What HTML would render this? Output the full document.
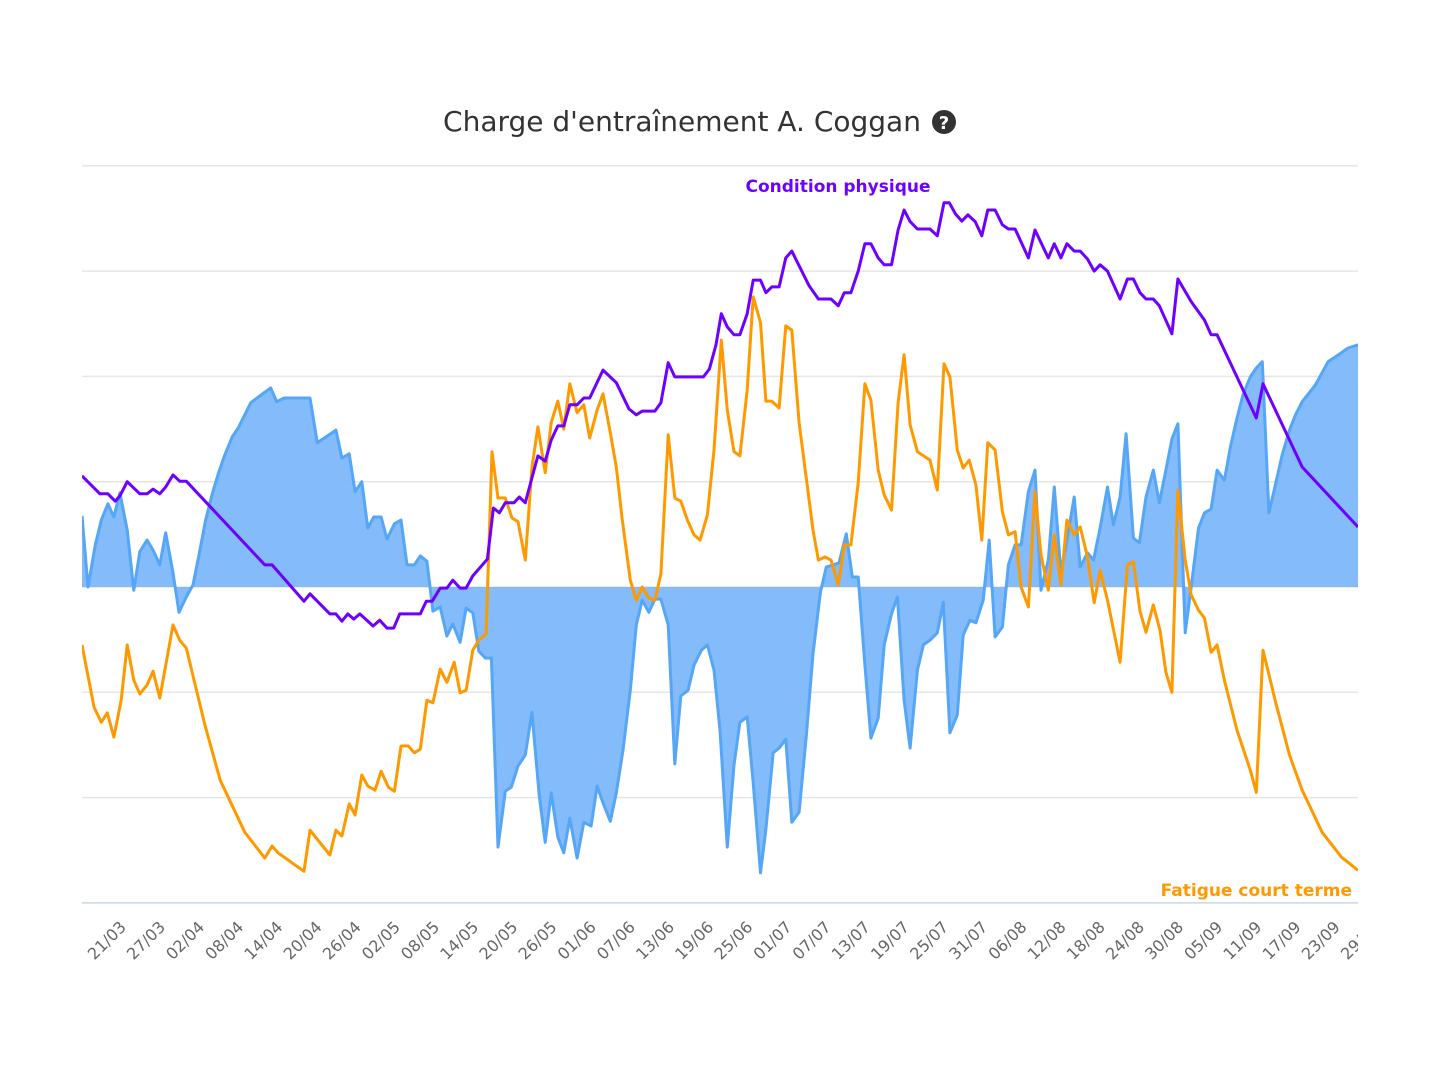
<!DOCTYPE html>
<html><head><meta charset="utf-8"><style>
html,body{margin:0;padding:0;background:#fff;}
svg{display:block;font-family:"DejaVu Sans","Liberation Sans",sans-serif;}
</style></head><body>
<svg id="chart" width="1440" height="1076" viewBox="0 0 1440 1076" xmlns="http://www.w3.org/2000/svg">
<defs><clipPath id="plotclip"><rect x="82" y="150" width="1276" height="830"/></clipPath></defs>
<text x="682" y="131" text-anchor="middle" font-size="28" fill="#333">Charge d'entraînement A. Coggan</text>
<g><circle cx="944" cy="122" r="12" fill="#333"/><text x="944" y="129" text-anchor="middle" font-size="18" font-weight="bold" fill="#fff">?</text></g>
<g id="grid"></g>
<g id="series" clip-path="url(#plotclip)"></g>
<g id="xaxis" clip-path="url(#plotclip)"></g>
<text x="838" y="192" text-anchor="middle" font-size="17" font-weight="bold" fill="#6e00ff">Condition physique</text>
<text x="1352" y="896" text-anchor="end" font-size="17" font-weight="bold" fill="#ff9900">Fatigue court terme</text>
</svg>
<script>
const tickLabels=["21/03","27/03","02/04","08/04","14/04","20/04","26/04","02/05","08/05","14/05","20/05","26/05","01/06","07/06","13/06","19/06","25/06","01/07","07/07","13/07","19/07","25/07","31/07","06/08","12/08","18/08","24/08","30/08","05/09","11/09","17/09","23/09","29/09"];
const gridValues=[-60,-40,-20,0,20,40,60,80];
const fitDays=[0,2.7,3.9,5.0,5.7,6.8,8.7,9.8,10.7,11.7,12.6,13.7,14.7,15.7,27.5,28.6,33.4,34.3,37.3,38.2,39.1,40.0,40.9,41.8,43.8,44.8,45.9,46.9,47.8,50.9,51.8,52.7,53.9,54.9,55.8,56.9,57.8,58.8,61.0,61.9,62.8,63.7,65.0,65.8,66.7,67.7,68.6,69.7,70.6,71.6,72.5,73.4,74.5,75.5,76.4,78.4,80.4,82.3,83.4,84.3,86.2,87.1,88.2,89.2,93.5,94.4,95.4,96.2,97.1,98.1,99.0,100.1,101.0,102.1,102.9,103.8,104.9,105.9,106.8,109.4,110.8,112.7,113.8,114.7,115.7,116.8,117.8,118.7,119.8,120.7,121.8,122.8,123.7,124.6,125.7,127.6,128.7,129.7,130.5,131.4,132.4,133.3,134.4,135.4,136.3,137.4,138.5,139.4,140.4,142.4,143.4,145.4,146.3,147.3,148.2,149.3,150.2,151.3,152.3,153.2,154.3,156.2,157.3,158.2,159.2,160.1,161.2,162.1,164.0,164.9,166.9,168.9,169.9,170.8,176.7,177.7,183.6,192];
const fitVals=[21.1,17.7,17.7,16.3,17.3,20.0,17.7,17.7,18.6,17.7,19.0,21.3,20.1,20.1,4.2,4.2,-2.7,-1.3,-5.1,-5.1,-6.5,-5.1,-6.1,-5.1,-7.4,-6.3,-7.8,-7.8,-5.1,-5.1,-2.7,-2.7,-0.2,-0.2,1.3,-0.2,-0.2,2.1,5.3,15.0,14.1,16.0,16.0,17.1,16.0,20.7,24.9,23.9,27.9,30.6,30.6,34.6,34.6,35.9,35.9,41.2,38.8,33.8,32.7,33.4,33.4,35.0,42.6,39.9,39.9,41.4,46.0,51.9,49.4,47.9,47.9,51.9,58.3,58.3,55.9,57.0,57.0,62.5,63.8,57.2,54.7,54.7,53.4,55.9,55.9,60.0,65.2,65.2,62.5,61.2,61.2,67.8,71.6,69.4,68.0,68.0,66.7,73.0,73.0,70.9,69.5,70.7,69.4,66.7,71.6,71.6,68.8,68.0,68.0,62.5,67.8,62.5,65.2,62.5,65.2,63.8,63.8,62.3,60.0,61.2,60.0,54.7,58.5,58.5,55.9,54.7,54.7,53.4,48.1,58.5,54.2,50.7,47.9,47.9,32.1,38.6,22.8,11.4];
const fatDays=[0,0.8,1.8,2.9,3.8,4.8,5.9,6.8,7.8,8.7,9.8,10.7,11.7,13.7,14.7,15.7,16.9,18.5,20.8,24.5,27.5,28.6,29.5,33.4,34.3,37.3,38.2,39.1,40.2,41.1,42.1,43.0,44.1,45.0,46.1,47.0,48.0,49.1,50.0,50.9,51.9,52.8,53.9,54.9,56.0,56.9,57.8,58.8,59.7,60.8,61.7,62.6,63.7,64.7,65.6,66.7,67.7,68.6,69.7,70.6,71.6,72.5,73.4,74.5,75.5,76.4,77.5,78.4,79.5,80.4,81.3,82.5,83.4,84.3,85.3,86.2,87.1,88.2,89.2,90.1,91.1,92.1,93.0,94.1,95.1,96.2,97.1,98.1,99.0,100.1,101.0,102.1,102.9,103.8,104.9,105.9,106.8,107.9,110.0,110.8,111.8,112.7,113.8,114.7,115.7,116.8,117.8,118.7,119.8,120.7,121.8,122.8,123.7,124.6,125.7,127.6,128.7,129.7,130.6,131.7,132.6,133.5,134.5,135.4,136.3,137.4,138.5,139.4,140.4,141.3,142.4,143.4,144.3,145.4,146.3,147.3,148.2,149.3,150.2,151.3,152.3,153.2,154.3,155.3,156.2,157.3,158.2,159.2,160.1,161.2,162.2,163.1,164.0,164.9,166.0,166.9,168.0,168.9,169.9,170.8,171.9,173.8,175.8,176.7,177.7,179.7,181.7,183.6,186.6,189.5,192];
const fatVals=[-11.0,-16.2,-22.8,-25.7,-23.9,-28.5,-21.5,-11.0,-17.7,-20.3,-18.6,-16.0,-21.1,-7.2,-10.1,-11.6,-17.9,-26.2,-36.7,-46.6,-51.5,-49.2,-50.5,-54.0,-46.2,-50.9,-46.2,-47.3,-41.2,-43.3,-35.7,-37.8,-38.6,-35.0,-38.0,-38.8,-30.2,-30.2,-31.5,-30.8,-21.5,-22.0,-15.6,-18.1,-14.3,-20.1,-19.6,-12.0,-10.1,-8.9,25.7,16.9,16.9,13.1,12.4,5.1,22.6,30.4,21.7,31.2,35.3,30.0,38.6,33.1,34.6,28.3,33.6,36.7,29.3,22.8,12.7,1.3,-2.5,0,-2.1,-2.5,2.5,28.9,16.9,16.3,12.7,9.9,8.9,13.7,26.0,46.9,33.6,25.7,24.9,37.4,55.1,50.2,35.3,35.3,34.0,49.6,48.8,31.2,10.8,5.1,5.7,5.1,0.4,8.0,8.0,19.8,38.6,35.5,22.2,17.5,14.6,35.0,44.1,30.8,25.7,24.1,18.4,42.4,39.9,26.0,22.6,24.1,19.4,8.9,27.4,26.0,14.3,9.9,10.5,0,-3.8,18.1,6.1,-0.6,9.9,0.4,12.7,9.9,11.4,5.7,-3.0,3.2,-2.5,-8.7,-14.3,4.2,4.8,-4.6,-8.6,-3.4,-8.2,-16.2,-20.0,18.4,5.1,-1.5,-4.4,-5.9,-12.4,-11.0,-17.7,-27.2,-34.8,-39.0,-12.0,-22.4,-31.9,-38.6,-46.6,-51.3,-53.8];
const formDays=[0,0.9,2.0,2.9,3.9,4.8,5.7,6.8,7.8,8.7,9.8,10.7,11.7,12.6,13.7,14.6,15.7,16.7,17.6,18.6,19.6,20.6,21.5,22.6,23.5,25.4,27.4,28.4,29.3,30.4,34.3,35.4,38.2,39.1,40.2,41.1,42.1,43.0,43.9,45.0,45.9,47.0,48.0,48.9,50.0,50.9,51.9,52.8,53.9,54.9,55.8,56.9,57.8,58.8,59.7,60.7,61.6,62.6,63.7,64.6,65.6,66.7,67.7,68.8,69.7,70.6,71.6,72.5,73.4,74.5,75.5,76.6,77.5,78.4,79.5,80.4,81.4,82.5,83.4,84.3,85.3,86.2,87.1,88.2,89.2,90.1,91.2,92.1,93.2,94.1,95.1,96.0,97.1,98.1,99.0,100.1,101.0,102.1,102.9,104.0,104.9,105.9,106.8,107.9,109.0,110.0,111.1,112.0,113.0,113.9,115.0,115.9,116.8,117.8,118.7,119.8,120.7,121.8,122.7,123.7,124.6,125.7,126.6,127.6,128.7,129.6,130.6,131.7,132.6,133.6,134.5,135.6,136.5,137.4,138.5,139.4,140.4,141.3,142.4,143.4,144.3,145.4,146.3,147.3,148.2,149.3,150.2,151.3,152.2,153.2,154.3,155.2,156.2,157.1,158.2,159.1,160.1,161.2,162.1,163.1,164.0,164.9,166.0,166.9,168.0,168.9,169.9,170.8,171.9,172.8,173.8,174.7,175.8,176.7,177.6,178.6,179.5,180.6,181.7,182.6,183.6,185.6,187.5,189.5,190.5,192];
const formVals=[13.5,0,8.0,12.7,15.8,13.3,17.9,10.8,-0.6,6.7,8.9,7.0,4.2,10.3,2.7,-4.8,-1.9,0.4,6.1,12.7,17.7,21.9,25.1,28.5,30.2,35.0,36.9,37.8,35.2,35.9,35.9,27.4,29.8,24.5,25.3,18.1,20.0,11.2,13.3,13.3,9.1,12.0,12.7,4.2,4.2,5.9,4.9,-4.6,-3.8,-9.3,-7.0,-10.5,-4.0,-4.9,-12.2,-13.5,-13.5,-49.4,-38.8,-38.0,-34.0,-31.9,-23.8,-39.5,-48.5,-39.1,-47.5,-50.5,-43.9,-51.5,-44.7,-45.4,-37.8,-41.0,-44.5,-39.1,-31.0,-19.6,-7.2,-2.5,-4.8,-2.3,-2.3,-7.2,-33.6,-20.7,-19.6,-14.8,-12.0,-11.0,-15.8,-27.2,-49.4,-33.8,-25.7,-24.7,-37.2,-54.3,-46.0,-31.5,-30.6,-28.9,-44.7,-42.8,-28.1,-12.7,-1.0,3.8,4.2,4.6,10.1,1.9,1.9,-14.8,-28.7,-24.9,-11.0,-5.1,-1.9,-21.5,-30.6,-15.8,-11.0,-10.1,-8.7,-2.9,-27.7,-24.3,-9.1,-6.3,-6.8,-2.5,8.9,-9.5,-7.6,4.2,8.0,8.0,18.1,22.2,-0.6,5.1,19.0,2.7,8.9,17.1,3.8,6.5,5.1,11.2,19.0,11.8,17.1,29.1,9.3,8.4,17.1,22.2,16.0,22.2,28.1,31.0,-8.7,0,11.2,14.1,14.8,22.2,20.3,26.6,32.1,36.5,39.9,41.6,42.8,14.1,19.0,25.1,29.8,32.7,35.2,38.4,42.8,44.5,45.4,46.0];

const NS="http://www.w3.org/2000/svg";
const X0=82,X1=1358,Y0=587,PXU=105.3/20;
const xScale=d=>X0+(d/192)*(X1-X0);
const yScale=v=>Y0-v*PXU;
const tickX=k=>122+k*39.16;
function mk(tag,attrs,parent){const e=document.createElementNS(NS,tag);for(const k in attrs)e.setAttribute(k,attrs[k]);parent.appendChild(e);return e;}
const grid=document.getElementById('grid'),series=document.getElementById('series'),xaxis=document.getElementById('xaxis');
gridValues.forEach(v=>{const l=mk('line',{x1:X0,x2:X1,y1:yScale(v),y2:yScale(v),stroke:v===-60?'#ccd6eb':'#e6e6e6','stroke-width':1.5},grid);

});
let fp='M'+xScale(formDays[0])+','+yScale(0);
formDays.forEach((d,i)=>{fp+=' L'+xScale(d).toFixed(1)+','+yScale(formVals[i]).toFixed(1);});
fp+=' L'+xScale(formDays[formDays.length-1])+','+yScale(0)+' Z';
const fa=mk('path',{d:fp,fill:'#7cb7fb','fill-opacity':0.95,stroke:'none'},series);


function line(days,vals){return days.map((d,i)=>(i?'L':'M')+xScale(d).toFixed(1)+','+yScale(vals[i]).toFixed(1)).join(' ');}
const fl=mk('path',{d:line(formDays,formVals),fill:'none',stroke:'#55a6f6','stroke-width':3,'stroke-linejoin':'round'},series);


const ft=mk('path',{d:line(fatDays,fatVals),fill:'none',stroke:'#ff9900','stroke-width':3,'stroke-linejoin':'round'},series);


const fi=mk('path',{d:line(fitDays,fitVals),fill:'none',stroke:'#6e00ff','stroke-width':3,'stroke-linejoin':'round'},series);


tickLabels.forEach((t,k)=>{const x=tickX(k)+5,y=928;const tx=mk('text',{x:x,y:y,'text-anchor':'end','font-size':16,fill:'#666',transform:'rotate(-45 '+x+' '+y+')'},xaxis);tx.textContent=t;

});
</script>
</body></html>
